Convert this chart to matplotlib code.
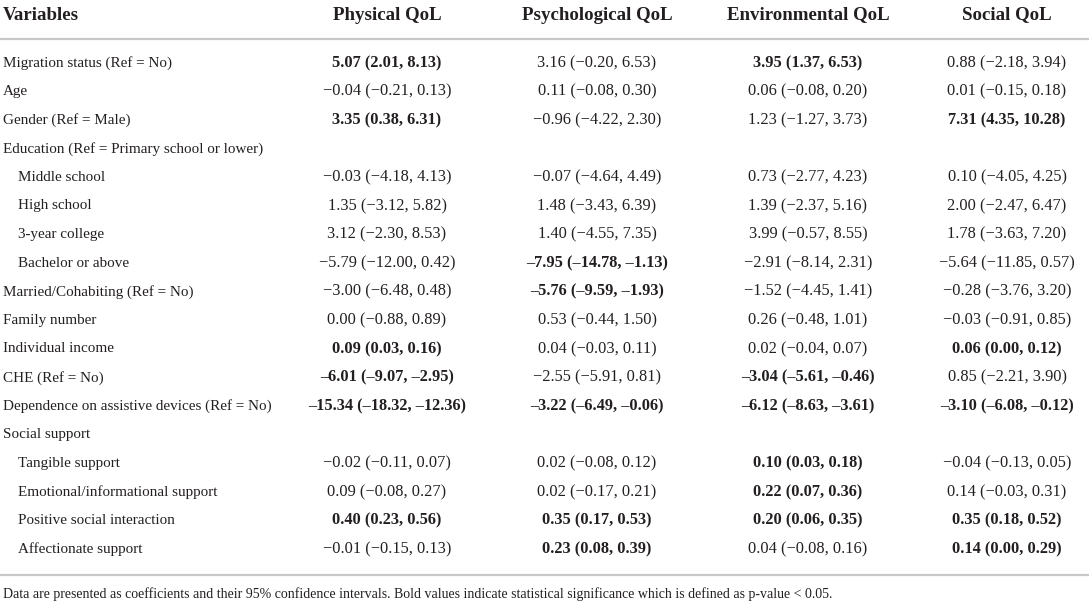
import matplotlib
matplotlib.use("Agg")
import matplotlib.pyplot as plt

plt.rcParams['font.family'] = ['Liberation Serif', 'DejaVu Serif']

headers = ["Variables", "Physical QoL", "Psychological QoL", "Environmental QoL", "Social QoL"]

variables = [
    "Migration status (Ref = No)", "Age", "Gender (Ref = Male)",
    "Education (Ref = Primary school or lower)",
    "Middle school", "High school", "3-year college", "Bachelor or above",
    "Married/Cohabiting (Ref = No)", "Family number", "Individual income",
    "CHE (Ref = No)", "Dependence on assistive devices (Ref = No)",
    "Social support",
    "Tangible support", "Emotional/informational support",
    "Positive social interaction", "Affectionate support",
]
indented = [0, 0, 0, 0, 1, 1, 1, 1, 0, 0, 0, 0, 0, 0, 1, 1, 1, 1]

# (coef, lower, upper, significant); None = group heading row
physical = [
    (5.07, 2.01, 8.13, 1), (-0.04, -0.21, 0.13, 0), (3.35, 0.38, 6.31, 1), None,
    (-0.03, -4.18, 4.13, 0), (1.35, -3.12, 5.82, 0), (3.12, -2.30, 8.53, 0),
    (-5.79, -12.00, 0.42, 0), (-3.00, -6.48, 0.48, 0), (0.00, -0.88, 0.89, 0),
    (0.09, 0.03, 0.16, 1), (-6.01, -9.07, -2.95, 1), (-15.34, -18.32, -12.36, 1), None,
    (-0.02, -0.11, 0.07, 0), (0.09, -0.08, 0.27, 0), (0.40, 0.23, 0.56, 1),
    (-0.01, -0.15, 0.13, 0),
]
psychological = [
    (3.16, -0.20, 6.53, 0), (0.11, -0.08, 0.30, 0), (-0.96, -4.22, 2.30, 0), None,
    (-0.07, -4.64, 4.49, 0), (1.48, -3.43, 6.39, 0), (1.40, -4.55, 7.35, 0),
    (-7.95, -14.78, -1.13, 1), (-5.76, -9.59, -1.93, 1), (0.53, -0.44, 1.50, 0),
    (0.04, -0.03, 0.11, 0), (-2.55, -5.91, 0.81, 0), (-3.22, -6.49, -0.06, 1), None,
    (0.02, -0.08, 0.12, 0), (0.02, -0.17, 0.21, 0), (0.35, 0.17, 0.53, 1),
    (0.23, 0.08, 0.39, 1),
]
environmental = [
    (3.95, 1.37, 6.53, 1), (0.06, -0.08, 0.20, 0), (1.23, -1.27, 3.73, 0), None,
    (0.73, -2.77, 4.23, 0), (1.39, -2.37, 5.16, 0), (3.99, -0.57, 8.55, 0),
    (-2.91, -8.14, 2.31, 0), (-1.52, -4.45, 1.41, 0), (0.26, -0.48, 1.01, 0),
    (0.02, -0.04, 0.07, 0), (-3.04, -5.61, -0.46, 1), (-6.12, -8.63, -3.61, 1), None,
    (0.10, 0.03, 0.18, 1), (0.22, 0.07, 0.36, 1), (0.20, 0.06, 0.35, 1),
    (0.04, -0.08, 0.16, 0),
]
social = [
    (0.88, -2.18, 3.94, 0), (0.01, -0.15, 0.18, 0), (7.31, 4.35, 10.28, 1), None,
    (0.10, -4.05, 4.25, 0), (2.00, -2.47, 6.47, 0), (1.78, -3.63, 7.20, 0),
    (-5.64, -11.85, 0.57, 0), (-0.28, -3.76, 3.20, 0), (-0.03, -0.91, 0.85, 0),
    (0.06, 0.00, 0.12, 1), (0.85, -2.21, 3.90, 0), (-3.10, -6.08, -0.12, 1), None,
    (-0.04, -0.13, 0.05, 0), (0.14, -0.03, 0.31, 0), (0.35, 0.18, 0.52, 1),
    (0.14, 0.00, 0.29, 1),
]

footnote = ("Data are presented as coefficients and their 95% confidence intervals. "
            "Bold values indicate statistical significance which is defined as p-value < 0.05.")

W, H = 1089, 603
col_x = [387, 597, 808, 1007]
row_y0, row_dy = 63, 28.6
ink = "#231f20"
rule = "#c8c8c8"


def fmt(v, bold):
    s = f"{abs(v):.2f}"
    if v < 0:
        s = ("\u2013" if bold else "\u2212") + s
    return s


def cell(c):
    coef, lo, hi, sig = c
    return f"{fmt(coef, sig)} ({fmt(lo, sig)}, {fmt(hi, sig)})", sig


fig = plt.figure(figsize=(W / 100, H / 100), dpi=100)
ax = fig.add_axes([0, 0, 1, 1])
ax.set_xlim(0, W)
ax.set_ylim(H, 0)
ax.axis("off")

# header
ax.text(3, 15, headers[0], ha="left", va="center", fontsize=13.6, fontweight="bold", color=ink)
for x, h in zip(col_x, headers[1:]):
    ax.text(x, 15, h, ha="center", va="center", fontsize=13.6, fontweight="bold", color=ink)

ax.plot([0, W], [38.5, 38.5], color=rule, lw=1.6, solid_capstyle="butt")

columns = [physical, psychological, environmental, social]
for i, name in enumerate(variables):
    y = row_y0 + i * row_dy
    ax.text(3 + 15 * indented[i], y, name, ha="left", va="center", fontsize=10.9, color=ink)
    for x, col in zip(col_x, columns):
        if col[i] is None:
            continue
        txt, sig = cell(col[i])
        ax.text(x, y, txt, ha="center", va="center", fontsize=11.8,
                fontweight="bold" if sig else "normal", color=ink)

ax.plot([0, W], [575, 575], color=rule, lw=1.6, solid_capstyle="butt")
ax.text(3, 594, footnote, ha="left", va="center", fontsize=10, color=ink)

fig.savefig("out.png", dpi=100, facecolor="white")
